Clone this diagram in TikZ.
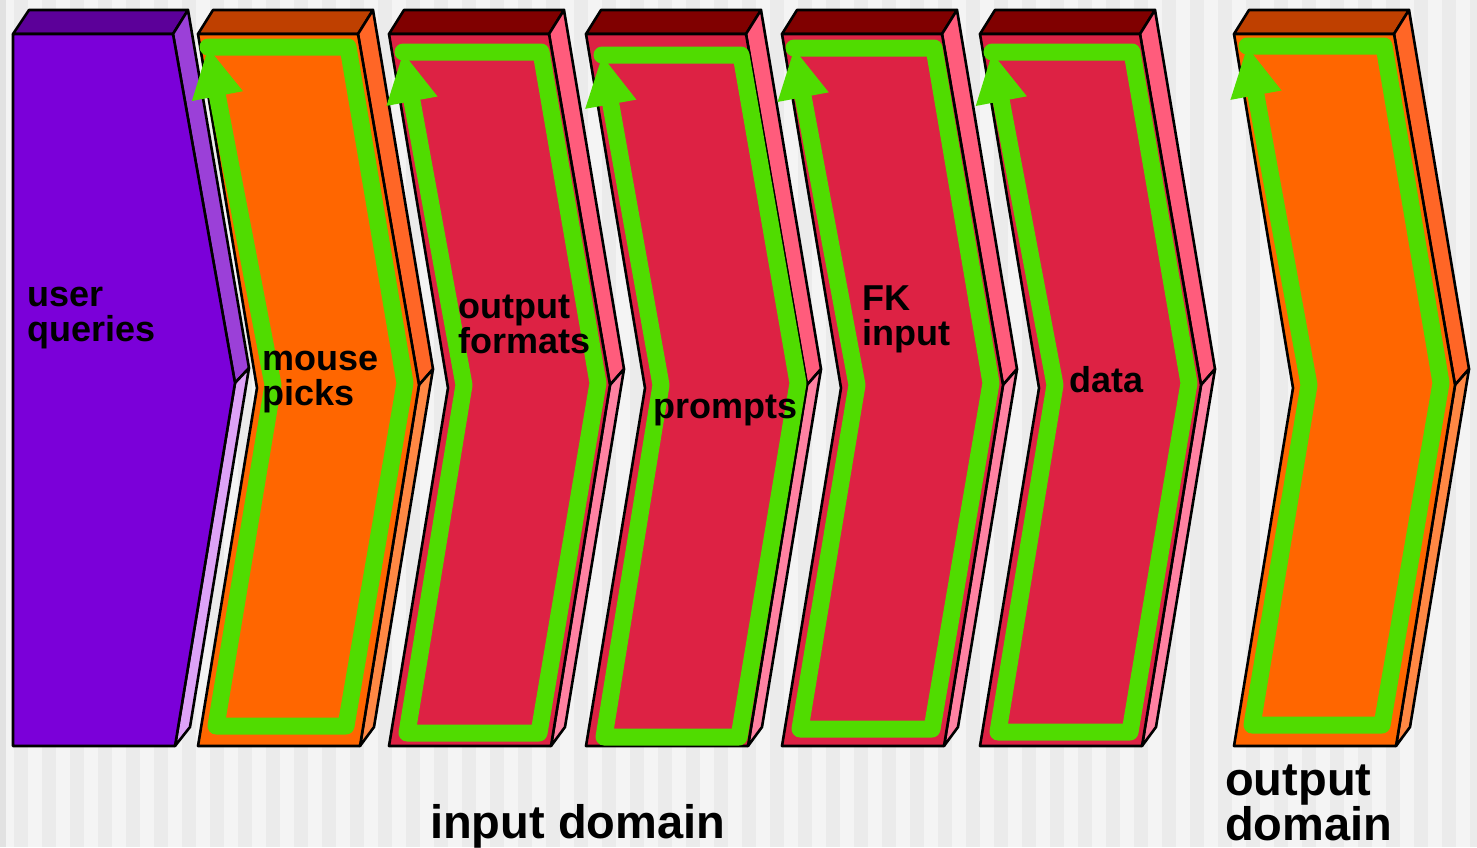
\documentclass[tikz,border=0pt]{standalone}
\usepackage{fontspec}
\setmainfont{Liberation Sans}
\usetikzlibrary{arrows.meta}
\definecolor{bgA}{HTML}{F4F4F4}
\definecolor{bgB}{HTML}{EBEBEB}
\definecolor{bgC}{HTML}{E2E2E2}
\definecolor{purF}{HTML}{7B00D9}
\definecolor{purT}{HTML}{5C0099}
\definecolor{purS}{HTML}{9B40D8}
\definecolor{purL}{HTML}{DDA2F7}
\definecolor{orF}{HTML}{FF6600}
\definecolor{orT}{HTML}{BF4000}
\definecolor{orS}{HTML}{FF6626}
\definecolor{orL}{HTML}{FF8844}
\definecolor{rdF}{HTML}{DD2244}
\definecolor{rdT}{HTML}{800000}
\definecolor{rdS}{HTML}{FF5C7C}
\definecolor{rdL}{HTML}{FF82A2}
\definecolor{grn}{HTML}{50DC00}
\tikzset{
  face/.style={draw=black,line width=2.6pt,line join=round},
  greenloop/.style={draw=grn,line width=17pt,line cap=round,line join=round,-{Triangle[length=50pt,width=48pt]}},
  lbl/.style={inner sep=0pt,anchor=base west,font=\fontsize{36}{35}\selectfont\bfseries,text=black},
  biglbl/.style={inner sep=0pt,anchor=base west,font=\fontsize{47}{45}\selectfont\bfseries,text=black}
}
\newcommand\twolines[3]{\vtop{\baselineskip=#3pt\lineskiplimit=-100pt\hbox{#1}\hbox{#2}}}
% #1 x0, #2 front, #3 top, #4 upper side, #5 lower side
\newcommand\chevcol[5]{%
  \filldraw[face,fill=#3] (#1,34) -- ({#1+15},10) -- ({#1+175},10) -- ({#1+160},34) -- cycle;
  \filldraw[face,fill=#4] ({#1+160},34) -- ({#1+175},10) -- ({#1+235},369) -- ({#1+221},385) -- cycle;
  \filldraw[face,fill=#5] ({#1+221},385) -- ({#1+235},369) -- ({#1+176},727) -- ({#1+162},746) -- cycle;
  \filldraw[face,fill=#2] (#1,34) -- ({#1+160},34) -- ({#1+221},385) -- ({#1+162},746) -- (#1,746) -- ({#1+59},388) -- cycle;
}
% #1 x0, #2 top y, #3 bottom y, #4 start x offset, #5 right shift
\newcommand\greenpath[5]{%
  \draw[greenloop] ({#1+#4},#2) -- ({#1+150+#5},#2) -- ({#1+207+#5},383) -- ({#1+148+#5},#3) -- ({#1+18},#3) -- ({#1+75},385) -- ({#1+#4},#2);
}
\begin{document}
\begin{tikzpicture}[x=1pt,y=-1pt]
\useasboundingbox (0,0) rectangle (1477,847);
% background stripes
\fill[bgA] (0,0) rectangle (1477,847);
\foreach \k in {0,...,52} {
  \fill[bgB] ({28*\k+14},0) rectangle ({28*\k+28},847);
}
\fill[bgC] (0,0) rectangle (6,847);
% user queries column
\filldraw[face,fill=purT] (13,34) -- (29,10) -- (188,10) -- (173,34) -- cycle;
\filldraw[face,fill=purS] (173,34) -- (188,10) -- (249,368) -- (235,383) -- cycle;
\filldraw[face,fill=purL] (235,383) -- (249,368) -- (190,727) -- (175,746) -- cycle;
\filldraw[face,fill=purF] (13,34) -- (173,34) -- (235,383) -- (175,746) -- (13,746) -- cycle;
% other columns
\chevcol{198}{orF}{orT}{orS}{orL}
\greenpath{198}{47}{726}{10}{0}
\chevcol{389}{rdF}{rdT}{rdS}{rdL}
\greenpath{389}{52}{733}{14}{2}
\chevcol{586}{rdF}{rdT}{rdS}{rdL}
\greenpath{586}{55}{737}{16}{5}
\chevcol{782}{rdF}{rdT}{rdS}{rdL}
\greenpath{782}{48}{729}{12}{2}
\chevcol{980}{rdF}{rdT}{rdS}{rdL}
\greenpath{980}{52}{732}{12}{2}
\chevcol{1234}{orF}{orT}{orS}{orL}
\greenpath{1234}{46}{725}{13}{0}
% labels
\node[lbl] (uq) at (27,306) {\twolines{user}{queries}{35}};
\node[lbl] (mp) at (262,370) {\twolines{mouse}{picks}{35}};
\node[lbl] (of) at (458,318) {\twolines{output}{formats}{35}};
\node[lbl] (pr) at (653,418) {prompts};
\node[lbl] (fk) at (862,310) {\twolines{FK}{input}{35}};
\node[lbl] (da) at (1069,392) {data};
\node[biglbl] (id) at (430,838) {input domain};
\node[biglbl] (od) at (1225,795) {\twolines{output}{domain}{45}};
\end{tikzpicture}
\end{document}
